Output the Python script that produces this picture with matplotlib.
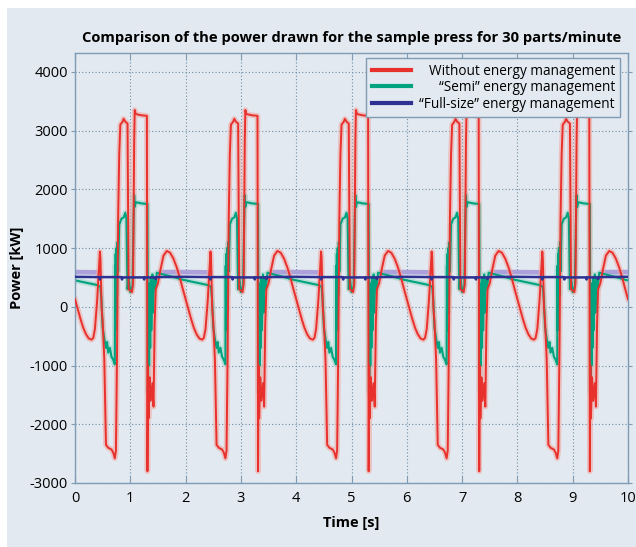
import numpy as np
import matplotlib
matplotlib.use("Agg")
import matplotlib.pyplot as plt
from matplotlib.patches import Rectangle

plt.rcParams['font.family'] = ['Open Sans', 'DejaVu Sans']
plt.rcParams['axes.unicode_minus'] = False

title = "Comparison of the power drawn for the sample press for 30 parts/minute"
labels = ["Without energy management", "\u201cSemi\u201d energy management",
          "\u201cFull-size\u201d energy management"]
x_ticks = [0, 1, 2, 3, 4, 5, 6, 7, 8, 9, 10]
y_ticks = [-3000, -2000, -1000, 0, 1000, 2000, 3000, 4000]
period = 2.0
n_cycles = 5

# one press cycle (time within cycle [s], power [kW])
red_cycle_t = [0.00, 0.05, 0.10, 0.15, 0.20, 0.25, 0.30, 0.33, 0.36, 0.40,
               0.43, 0.45, 0.46, 0.48, 0.50, 0.53, 0.56, 0.60, 0.66, 0.69,
               0.72, 0.74, 0.76, 0.78, 0.80, 0.82, 0.86, 0.88, 0.91, 0.95,
               0.97, 1.03, 1.05, 1.07, 1.08, 1.10, 1.20, 1.30, 1.31, 1.32,
               1.33, 1.35, 1.37, 1.40, 1.42, 1.44, 1.46, 1.50, 1.55, 1.60,
               1.66, 1.72, 1.78, 1.84, 1.90, 1.95]
red_cycle_v = [130, -40, -210, -360, -470, -540, -560, -530, -380, 100,
               600, 940, 820, 0, -250, -900, -2350, -2400, -2430, -2480,
               -2580, -2450, -800, 1500, 2600, 3100, 3150, 3200, 3150, 3120,
               300, 250, 400, 2800, 3350, 3280, 3260, 3250, -2800, -1000,
               -1900, -1200, -1600, -1300, -1700, -300, 300, 400, 650, 870,
               950, 920, 820, 670, 480, 300]

green_cycle_t = [0.00, 0.20, 0.40, 0.46, 0.48, 0.50, 0.53, 0.56, 0.58, 0.60,
                 0.63, 0.66, 0.69, 0.72, 0.725, 0.73, 0.735, 0.74, 0.75, 0.76,
                 0.77, 0.78, 0.80, 0.84, 0.88, 0.91, 0.93, 0.95, 0.97, 1.00,
                 1.04, 1.06, 1.07, 1.08, 1.10, 1.20, 1.31, 1.32, 1.33, 1.34,
                 1.35, 1.36, 1.37, 1.38, 1.40, 1.41, 1.43, 1.45, 1.48, 1.60,
                 1.80, 1.95]
green_cycle_v = [450, 410, 370, 340, 100, -350, -550, -700, -600, -780,
                 -700, -850, -900, -980, 700, -400, 900, -100, 1000, 200,
                 1100, 600, 1400, 1500, 1520, 1600, 1500, 300, 500, 250,
                 350, 1500, 1900, 1700, 1780, 1760, 1750, -1450, 300, -1000,
                 400, -700, 500, -400, 550, -100, 500, 300, 580, 550,
                 500, 460]

blue_cycle_t = [0.00, 0.44, 0.45, 0.46, 0.84, 0.85, 0.86, 1.24, 1.25, 1.26,
                1.45, 1.46, 1.47, 1.95]
blue_cycle_v = [510, 505, 465, 505, 505, 465, 500, 500, 465, 500,
                500, 470, 505, 510]

lav_cycle_t = [0.00, 0.44, 0.45, 1.54, 1.55, 1.95]
lav_cycle_v = [590, 585, np.nan, np.nan, 590, 590]


def build(ct, cv):
    t = np.concatenate([np.array(ct) + period * k for k in range(n_cycles)] + [[n_cycles * period]])
    v = np.concatenate([np.array(cv, dtype=float) for _ in range(n_cycles)] + [[cv[0]]])
    return t, v


red_t, red_v = build(red_cycle_t, red_cycle_v)
green_t, green_v = build(green_cycle_t, green_cycle_v)
blue_t, blue_v = build(blue_cycle_t, blue_cycle_v)
lav_t, lav_v = build(lav_cycle_t, lav_cycle_v)

BG = '#e2e9f0'
SPINE = '#7f9cb4'
GRID = '#6f8ea6'
RED = '#e8302c'
GREEN = '#00a37f'
BLUE = '#2e3192'

fig = plt.figure(figsize=(6.36, 5.47), dpi=100, facecolor='white')
fig.patches.append(Rectangle((7 / 636, -0.05), 1.1, 0.05 + (547 - 8) / 547, transform=fig.transFigure,
                             facecolor=BG, edgecolor='none', zorder=-10))
ax = fig.add_axes([75 / 636, 64 / 547, 553 / 636, 430 / 547])
ax.set_facecolor(BG)

# glow layers (blurred print look)
ax.plot(red_t, red_v, color='#f2a29c', lw=4.0, alpha=0.55, zorder=2, solid_joinstyle='round')
ax.plot(green_t, green_v, color='#8fd3be', lw=4.0, alpha=0.5, zorder=1.5, solid_joinstyle='round')
ax.plot(lav_t, lav_v, color='#a69ad8', lw=3.4, alpha=0.9, zorder=1.8)

lg, = ax.plot(green_t, green_v, color=GREEN, lw=1.5, zorder=2.5, label=labels[1])
lr, = ax.plot(red_t, red_v, color=RED, lw=1.4, zorder=3, label=labels[0])
lb, = ax.plot(blue_t, blue_v, color=BLUE, lw=1.8, zorder=4, label=labels[2])

ax.set_xlim(0, 10)
ax.set_ylim(-3000, 4320)
ax.set_xticks(x_ticks)
ax.set_yticks(y_ticks)
ax.set_xticklabels([str(v) for v in x_ticks])
ax.set_yticklabels([str(v) for v in y_ticks])
ax.grid(True, linestyle=(0, (1, 2)), color=GRID, lw=0.8)
ax.set_axisbelow(True)
for s in ax.spines.values():
    s.set_color(SPINE)
    s.set_linewidth(1.0)
ax.tick_params(axis='x', which='both', direction='in', length=5, color=SPINE,
               top=True, labelsize=10.5, pad=6)
ax.tick_params(axis='y', which='both', direction='out', length=3, color=SPINE,
               labelsize=10.5, pad=2)
ax.tick_params(axis='y', right=True)
ax.set_xlabel("Time [s]", fontsize=10.5, fontweight='bold', labelpad=7)
ax.set_ylabel("Power [kW]", fontsize=10.5, fontweight='bold', labelpad=4)
ax.set_title(title, fontsize=10.6, fontweight='bold', pad=8)

leg = ax.legend(handles=[lr, lg, lb], labels=labels, loc='upper right',
                bbox_to_anchor=(0.986, 0.988), borderaxespad=0, fontsize=9.8,
                frameon=True, fancybox=False, handlelength=2.9, handletextpad=0.6,
                labelspacing=0.12, borderpad=0.4)
leg.get_frame().set_facecolor(BG)
leg.get_frame().set_edgecolor(SPINE)
leg.get_frame().set_alpha(1)
leg.get_frame().set_linewidth(1.0)
for h in leg.legend_handles:
    h.set_linewidth(3)

# right-align legend texts
fig.canvas.draw()
renderer = fig.canvas.get_renderer()
widths = [t.get_window_extent(renderer).width for t in leg.get_texts()]
W = max(widths)
for t, w in zip(leg.get_texts(), widths):
    t.set_x(W - w)

fig.savefig("out.png", dpi=100, facecolor=fig.get_facecolor())
